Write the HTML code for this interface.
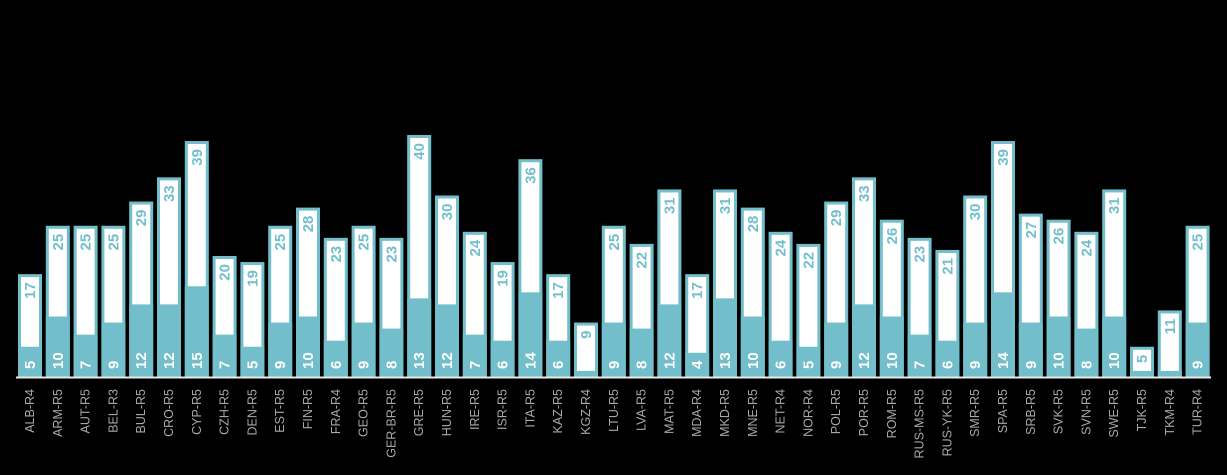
<!DOCTYPE html>
<html><head><meta charset="utf-8"><style>
html,body{margin:0;padding:0;background:#000;}
svg{display:block;font-family:"Liberation Sans",sans-serif;}
</style></head><body>
<svg id="chart" width="1227" height="475" viewBox="0 0 1227 475" xmlns="http://www.w3.org/2000/svg">
<rect x="0" y="0" width="1227" height="475" fill="#000"/>
<g id="bars"></g>
<line x1="16" y1="377.5" x2="1211" y2="377.5" stroke="#e8e8e8" stroke-width="2"/>
</svg>
<script>
const categories=["ALB-R4","ARM-R5","AUT-R5","BEL-R3","BUL-R5","CRO-R5","CYP-R5","CZH-R5","DEN-R5","EST-R5","FIN-R5","FRA-R4","GEO-R5","GER-BR-R5","GRE-R5","HUN-R5","IRE-R5","ISR-R5","ITA-R5","KAZ-R5","KGZ-R4","LTU-R5","LVA-R5","MAT-R5","MDA-R4","MKD-R5","MNE-R5","NET-R4","NOR-R4","POL-R5","POR-R5","ROM-R5","RUS-MS-R5","RUS-YK-R5","SMR-R5","SPA-R5","SRB-R5","SVK-R5","SVN-R5","SWE-R5","TJK-R5","TKM-R4","TUR-R4"];
const lowerValues=[5,10,7,9,12,12,15,7,5,9,10,6,9,8,13,12,7,6,14,6,1,9,8,12,4,13,10,6,5,9,12,10,7,6,9,14,9,10,8,10,1,1,9];
const totalValues=[17,25,25,25,29,33,39,20,19,25,28,23,25,23,40,30,24,19,36,17,9,25,22,31,17,31,28,24,22,29,33,26,23,21,30,39,27,26,24,31,5,11,25];
const NS="http://www.w3.org/2000/svg";
const baseY=377, scale=6.05, x0=18, pitch=27.8, bw=24;
const yPos=v=>baseY-v*scale;
const xPos=i=>x0+i*pitch;
const g=document.getElementById('bars');
function mk(tag,attrs){const e=document.createElementNS(NS,tag);for(const k in attrs)e.setAttribute(k,attrs[k]);return e;}
categories.forEach((c,i)=>{
  const x=xPos(i), yt=yPos(totalValues[i]), yl=yPos(lowerValues[i]);
  const outer=mk('rect',{x:x+1.5,y:yt+1.5,width:bw-3,height:baseY-yt-1.5,fill:'#fff',stroke:'#72bfcb','stroke-width':3});
  
  
  g.appendChild(outer);
  const inner=mk('rect',{x:x,y:yl,width:bw,height:baseY-yl,fill:'#72bfcb'});
  
  
  g.appendChild(inner);
  const cx=x+bw/2+5;
  const t1=mk('text',{x:0,y:0,transform:`translate(${cx},${baseY-8}) rotate(-90)`,fill:'#fff','font-size':15,'font-weight':'bold'});
  t1.textContent=lowerValues[i];
  
  
  g.appendChild(t1);
  const t2=mk('text',{x:0,y:0,transform:`translate(${cx},${yt+8}) rotate(-90)`,fill:'#72bfcb','font-size':15,'font-weight':'bold','text-anchor':'end'});
  t2.textContent=totalValues[i];
  
  
  g.appendChild(t2);
  const xl=mk('text',{x:0,y:0,transform:`translate(${x+bw/2+4},${389}) rotate(-90)`,fill:'#a8a8a8','font-size':12.5,'text-anchor':'end'});
  xl.textContent=c;
  
  
  g.appendChild(xl);
});
</script>
</body></html>
